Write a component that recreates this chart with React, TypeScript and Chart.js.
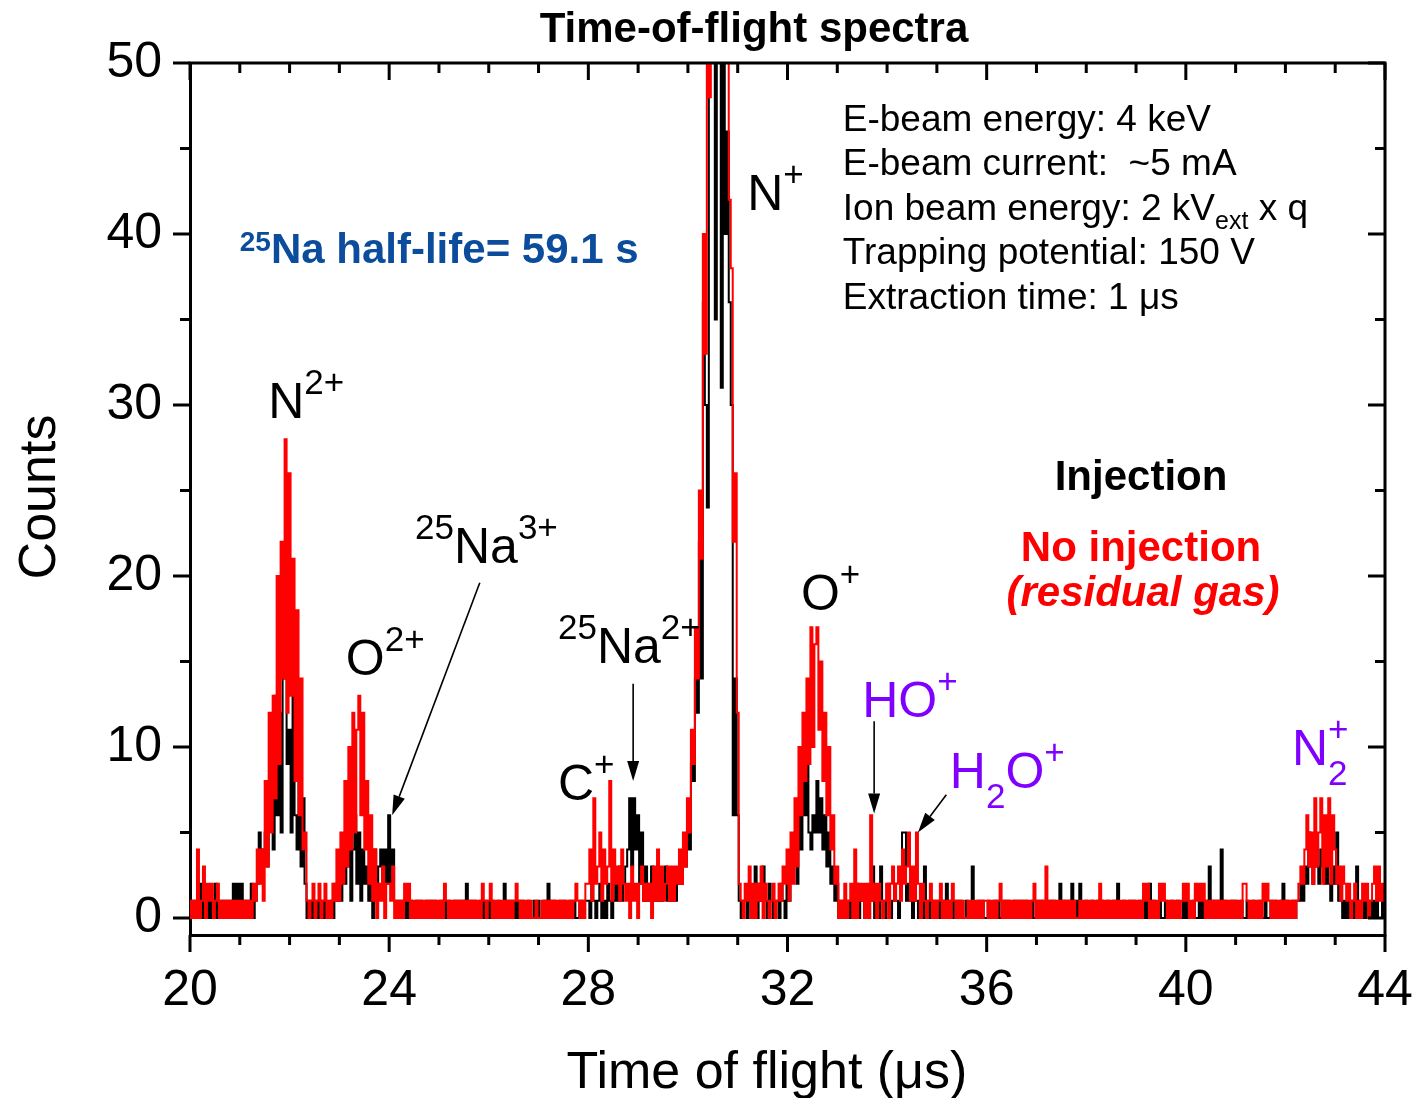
import React, { useEffect, useRef } from 'react';
import { Chart, registerables } from 'chart.js';

Chart.register(...registerables);

const FONT = '"Liberation Sans", Arial, Helvetica, sans-serif';
const BLACK = '#000000';
const RED = '#ff0000';
const PURPLE = '#8000ff';
const BLUE = '#0b4c9c';

// time axis binning (µs)
const T_START = 20;
const BIN = 0.04;

const xTickValues = [20, 24, 28, 32, 36, 40, 44];
const yTickValues = [0, 10, 20, 30, 40, 50];

// "No injection (residual gas)" counts, red, 0.04 µs bins
const red20to24 = [
  1, 0, 1, 0, 4, 0, 1, 3, 0, 2,
  1, 2, 0, 1, 2, 0, 1, 0, 1, 0,
  1, 0, 1, 0, 1, 0, 1, 0, 1, 0,
  1, 0, 2, 1, 4, 2, 4, 1, 8, 3,
  12, 5, 13, 7, 20, 9, 22, 14, 28, 12,
  26, 13, 21, 8, 18, 6, 14, 4, 5, 1,
  0, 1, 2, 0, 1, 2, 0, 1, 2, 0,
  1, 0, 2, 1, 4, 1, 5, 2, 8, 3,
  10, 4, 12, 5, 11, 13, 6, 12, 4, 8,
  2, 6, 1, 4, 0, 2, 1, 3, 0, 2,
];
const red24to28 = [
  2, 1, 3, 0, 1, 0, 1, 0, 2, 1,
  2, 0, 1, 0, 1, 0, 1, 0, 1, 0,
  1, 0, 1, 0, 1, 0, 1, 0, 2, 1,
  0, 1, 0, 1, 0, 1, 0, 1, 0, 1,
  0, 1, 0, 1, 0, 1, 0, 2, 1, 0,
  1, 2, 0, 1, 0, 1, 0, 1, 0, 1,
  0, 1, 0, 1, 2, 1, 0, 1, 0, 1,
  0, 1, 0, 0, 1, 0, 0, 1, 0, 1,
  0, 1, 0, 1, 0, 1, 0, 1, 0, 1,
  0, 1, 0, 1, 2, 1, 0, 1, 0, 2,
];
const red28to32 = [
  2, 4, 1, 7, 2, 3, 5, 1, 4, 2,
  3, 8, 1, 4, 2, 3, 1, 4, 2, 1,
  2, 0, 3, 1, 2, 0, 2, 3, 1, 2,
  1, 2, 0, 3, 1, 4, 1, 3, 1, 2,
  3, 1, 3, 1, 3, 2, 4, 2, 5, 3,
  7, 5, 11, 9, 17, 14, 25, 21, 40, 33,
  56, 48, 70, 62, 81, 74, 78, 66, 64, 52,
  57, 42, 38, 22, 26, 12, 2, 1, 0, 2,
  1, 3, 0, 2, 0, 2, 1, 3, 0, 2,
  1, 0, 1, 2, 0, 1, 2, 1, 3, 2,
];
const red32to36 = [
  4, 1, 5, 2, 7, 3, 10, 6, 12, 8,
  14, 9, 17, 10, 16, 17, 11, 15, 8, 12,
  6, 10, 4, 6, 2, 3, 0, 1, 0, 2,
  0, 1, 2, 0, 4, 0, 2, 1, 2, 0,
  2, 0, 6, 1, 2, 0, 2, 1, 0, 1,
  2, 0, 2, 3, 1, 2, 3, 1, 4, 2,
  3, 5, 1, 3, 1, 5, 2, 0, 2, 1,
  0, 1, 2, 0, 1, 0, 1, 2, 0, 1,
  0, 1, 0, 2, 1, 0, 1, 0, 1, 0,
  0, 1, 0, 1, 0, 1, 0, 1, 0, 1,
];
const red36to40 = [
  1, 0, 1, 0, 1, 0, 1, 2, 0, 1,
  0, 1, 0, 1, 0, 1, 0, 1, 0, 1,
  0, 1, 0, 1, 2, 0, 1, 0, 1, 0,
  3, 0, 1, 0, 1, 0, 1, 0, 1, 0,
  1, 0, 1, 0, 1, 0, 0, 1, 0, 1,
  0, 1, 0, 1, 0, 1, 0, 2, 0, 1,
  0, 1, 0, 1, 0, 1, 0, 1, 0, 1,
  0, 1, 0, 1, 0, 1, 0, 1, 0, 2,
  1, 2, 0, 1, 0, 1, 0, 2, 1, 2,
  1, 0, 1, 0, 1, 0, 1, 0, 1, 2,
];
const red40to44 = [
  1, 2, 0, 1, 0, 2, 1, 2, 1, 2,
  0, 1, 0, 1, 0, 1, 0, 1, 0, 1,
  0, 1, 0, 1, 0, 1, 0, 1, 0, 2,
  2, 1, 0, 1, 0, 1, 0, 1, 0, 2,
  1, 2, 1, 0, 1, 0, 1, 0, 1, 0,
  1, 0, 1, 0, 1, 0, 1, 2, 3, 2,
  4, 6, 3, 5, 2, 7, 3, 5, 7, 2,
  6, 3, 7, 2, 6, 4, 2, 3, 1, 3,
  2, 1, 2, 0, 1, 2, 0, 1, 0, 2,
  1, 2, 0, 1, 2, 3, 1, 3, 1, 2,
  1,
];

// "Injection" counts, black, 0.04 µs bins
const black20to24 = [
  0, 1, 0, 1, 0, 2, 0, 1, 0, 1,
  0, 1, 0, 2, 0, 1, 0, 1, 0, 1,
  0, 1, 2, 0, 2, 1, 2, 0, 1, 0,
  1, 2, 0, 1, 2, 5, 3, 4, 5, 3,
  6, 9, 4, 13, 6, 12, 5, 14, 16, 9,
  11, 5, 13, 6, 4, 10, 3, 7, 2, 0,
  1, 0, 1, 0, 1, 0, 1, 0, 1, 0,
  0, 1, 0, 2, 1, 3, 1, 4, 2, 3,
  5, 1, 4, 6, 2, 5, 1, 4, 2, 3,
  1, 3, 0, 4, 2, 3, 4, 2, 4, 2,
];
const black24to28 = [
  6, 2, 4, 1, 0, 1, 0, 1, 0, 1,
  0, 1, 0, 0, 1, 0, 1, 0, 0, 1,
  0, 1, 0, 1, 0, 0, 1, 0, 1, 0,
  1, 0, 0, 1, 0, 1, 0, 1, 0, 2,
  0, 1, 0, 1, 0, 0, 1, 0, 1, 0,
  1, 0, 1, 0, 0, 1, 0, 0, 2, 1,
  0, 1, 0, 1, 0, 1, 0, 1, 0, 0,
  1, 0, 0, 1, 0, 1, 0, 0, 1, 0,
  2, 1, 0, 1, 0, 0, 1, 0, 1, 0,
  0, 1, 0, 1, 0, 0, 1, 0, 1, 1,
];
const black28to32 = [
  1, 0, 2, 1, 0, 1, 2, 0, 1, 0,
  2, 1, 0, 1, 2, 1, 3, 1, 2, 3,
  4, 7, 3, 7, 4, 6, 2, 5, 1, 3,
  1, 2, 3, 1, 2, 1, 2, 1, 2, 3,
  1, 2, 1, 2, 1, 2, 3, 2, 4, 3,
  5, 4, 9, 8, 14, 12, 22, 14, 36, 30,
  24, 52, 60, 66, 35, 70, 62, 31, 58, 40,
  46, 36, 30, 6, 14, 6, 1, 0, 1, 1,
  0, 2, 1, 1, 3, 0, 2, 1, 3, 1,
  0, 2, 1, 0, 1, 1, 0, 2, 1, 0,
];
const black32to36 = [
  2, 1, 3, 4, 5, 2, 7, 4, 9, 6,
  11, 5, 4, 6, 5, 8, 5, 7, 4, 6,
  3, 5, 2, 3, 1, 2, 0, 1, 0, 1,
  0, 1, 0, 1, 0, 2, 0, 1, 1, 0,
  1, 0, 1, 3, 0, 1, 0, 3, 1, 0,
  1, 2, 0, 1, 2, 1, 0, 2, 5, 5,
  1, 2, 1, 0, 2, 1, 0, 1, 0, 3,
  0, 1, 0, 1, 1, 0, 1, 0, 1, 0,
  2, 0, 1, 0, 1, 1, 0, 1, 0, 0,
  1, 0, 0, 3, 0, 0, 1, 0, 1, 0,
];
const black36to40 = [
  0, 1, 0, 0, 1, 0, 1, 0, 0, 1,
  0, 1, 0, 0, 1, 0, 1, 0, 1, 0,
  1, 0, 0, 1, 0, 0, 1, 0, 1, 0,
  0, 0, 1, 0, 1, 0, 0, 2, 0, 1,
  0, 1, 0, 2, 0, 1, 0, 2, 0, 0,
  1, 0, 0, 1, 0, 0, 1, 0, 1, 0,
  0, 1, 0, 0, 1, 0, 2, 0, 0, 1,
  0, 0, 1, 0, 1, 0, 0, 1, 0, 0,
  1, 0, 2, 0, 1, 0, 0, 1, 0, 0,
  1, 0, 0, 1, 0, 0, 1, 0, 0, 1,
];
const black40to44 = [
  0, 1, 0, 0, 1, 0, 0, 1, 0, 1,
  0, 1, 3, 0, 1, 0, 1, 0, 4, 0,
  1, 0, 0, 1, 0, 1, 0, 0, 1, 0,
  0, 1, 0, 0, 1, 0, 0, 1, 0, 0,
  1, 0, 0, 1, 0, 1, 0, 0, 1, 2,
  0, 1, 0, 0, 1, 0, 1, 1, 2, 1,
  3, 2, 5, 3, 2, 4, 3, 2, 4, 3,
  2, 3, 2, 1, 3, 2, 5, 1, 2, 0,
  1, 0, 1, 0, 1, 0, 3, 0, 1, 0,
  1, 0, 1, 0, 1, 0, 1, 0, 0, 1,
  0,
];

const redCounts = [...red20to24, ...red24to28, ...red28to32, ...red32to36, ...red36to40, ...red40to44];
const blackCounts = [...black20to24, ...black24to28, ...black28to32, ...black32to36, ...black36to40, ...black40to44];

const toPoints = (counts: number[]) =>
  counts.map((c, i) => ({ x: Math.round((T_START + i * BIN) * 100) / 100, y: c }));

// ---------- text helpers ----------
type Part = { text: string; size: number; dy?: number; weight?: string; italic?: boolean; sameX?: boolean };

const fontOf = (p: Part) => `${p.italic ? 'italic ' : ''}${p.weight || 'normal'} ${p.size}px ${FONT}`;

const MAIN = 50;
const SUP = 35;
const P = (text: string): Part => ({ text, size: MAIN });
const S = (text: string, sameX = false): Part => ({ text, size: SUP, dy: -24, sameX });
const Sb = (text: string): Part => ({ text, size: SUP, dy: 20 });

function drawParts(ctx: CanvasRenderingContext2D, x: number, y: number, parts: Part[], color: string, align: 'left' | 'center' = 'left') {
  let cur = 0;
  let prevStart = 0;
  let maxEnd = 0;
  const placed: { p: Part; start: number }[] = [];
  for (const p of parts) {
    ctx.font = fontOf(p);
    const w = ctx.measureText(p.text).width;
    const start = p.sameX ? prevStart : cur;
    placed.push({ p, start });
    prevStart = start;
    cur = start + w;
    maxEnd = Math.max(maxEnd, cur);
  }
  const x0 = align === 'center' ? x - maxEnd / 2 : x;
  ctx.fillStyle = color;
  ctx.textAlign = 'left';
  ctx.textBaseline = 'alphabetic';
  for (const { p, start } of placed) {
    ctx.font = fontOf(p);
    ctx.fillText(p.text, x0 + start, y + (p.dy || 0));
  }
}

// peak labels anchored in data coordinates (time, counts) = left edge, baseline
const peakLabels: { t: number; c: number; color: string; parts: Part[] }[] = [
  { t: 21.57, c: 29.24, color: BLACK, parts: [P('N'), S('2+')] },
  { t: 23.13, c: 14.21, color: BLACK, parts: [P('O'), S('2+')] },
  { t: 24.52, c: 20.76, color: BLACK, parts: [S('25'), P('Na'), S('3+')] },
  { t: 27.39, c: 14.91, color: BLACK, parts: [S('25'), P('Na'), S('2+')] },
  { t: 27.39, c: 6.9, color: BLACK, parts: [P('C'), S('+')] },
  { t: 31.19, c: 41.4, color: BLACK, parts: [P('N'), S('+')] },
  { t: 32.27, c: 18.01, color: BLACK, parts: [P('O'), S('+')] },
  { t: 33.5, c: 11.75, color: PURPLE, parts: [P('HO'), S('+')] },
  { t: 35.26, c: 7.6, color: PURPLE, parts: [P('H'), Sb('2'), P('O'), S('+')] },
  { t: 42.13, c: 8.95, color: PURPLE, parts: [P('N'), Sb('2'), S('+', true)] },
];

// arrows in data coordinates: from -> to (head at "to")
const arrows = [
  { from: [25.82, 19.6], to: [24.06, 6.0] },
  { from: [28.9, 13.7], to: [28.9, 8.0] },
  { from: [33.74, 11.5], to: [33.74, 6.1] },
  { from: [35.19, 7.2], to: [34.62, 5.0] },
];

const INFO = 37;
const infoLines: { c: number; parts: Part[] }[] = [
  { c: 46.02, parts: [{ text: 'E-beam energy: 4 keV', size: INFO }] },
  { c: 43.45, parts: [{ text: 'E-beam current:  ~5 mA', size: INFO }] },
  {
    c: 40.82,
    parts: [
      { text: 'Ion beam energy: 2 kV', size: INFO },
      { text: 'ext', size: 25, dy: 9 },
      { text: ' x q', size: INFO },
    ],
  },
  { c: 38.25, parts: [{ text: 'Trapping potential: 150 V', size: INFO }] },
  { c: 35.61, parts: [{ text: 'Extraction time: 1 μs', size: INFO }] },
];
const INFO_T = 33.11;

const annotationPlugin = {
  id: 'tofAnnotations',
  afterDraw(chart: any) {
    const { ctx, chartArea } = chart;
    const xs = chart.scales.x;
    const ys = chart.scales.y;
    const { left, right, top, bottom } = chartArea;
    ctx.save();

    // frame (top/right) + ticks on all four sides
    ctx.strokeStyle = BLACK;
    ctx.lineWidth = 3;
    ctx.lineCap = 'butt';
    ctx.beginPath();
    ctx.moveTo(left - 1.5, top);
    ctx.lineTo(right, top);
    ctx.lineTo(right, bottom + 1.5);
    ctx.stroke();
    ctx.beginPath();
    for (let v = 20; v <= 44; v += 1) {
      const px = xs.getPixelForValue(v);
      const len = v % 4 === 0 ? 17 : 10;
      ctx.moveTo(px, bottom);
      ctx.lineTo(px, bottom + len);
      ctx.moveTo(px, top);
      ctx.lineTo(px, top + len);
    }
    for (let v = 0; v <= 50; v += 5) {
      const py = ys.getPixelForValue(v);
      const len = v % 10 === 0 ? 17 : 10;
      ctx.moveTo(left - len, py);
      ctx.lineTo(left, py);
      ctx.moveTo(right - len, py);
      ctx.lineTo(right, py);
    }
    ctx.stroke();

    // title & axis titles
    drawParts(ctx, 754, 42, [{ text: 'Time-of-flight spectra', size: 42, weight: 'bold' }], BLACK, 'center');
    drawParts(ctx, 767, 1088, [{ text: 'Time of flight (μs)', size: 52 }], BLACK, 'center');
    ctx.save();
    ctx.translate(55, 497);
    ctx.rotate(-Math.PI / 2);
    drawParts(ctx, 0, 0, [{ text: 'Counts', size: 52 }], BLACK, 'center');
    ctx.restore();

    // peak labels
    for (const l of peakLabels) {
      drawParts(ctx, xs.getPixelForValue(l.t), ys.getPixelForValue(l.c), l.parts, l.color);
    }

    // arrows
    ctx.strokeStyle = BLACK;
    ctx.fillStyle = BLACK;
    ctx.lineWidth = 1.6;
    for (const a of arrows) {
      const x1 = xs.getPixelForValue(a.from[0]);
      const y1 = ys.getPixelForValue(a.from[1]);
      const x2 = xs.getPixelForValue(a.to[0]);
      const y2 = ys.getPixelForValue(a.to[1]);
      const ang = Math.atan2(y2 - y1, x2 - x1);
      const hl = 20;
      const hw = 6;
      const bx = x2 - hl * Math.cos(ang);
      const by = y2 - hl * Math.sin(ang);
      ctx.beginPath();
      ctx.moveTo(x1, y1);
      ctx.lineTo(bx, by);
      ctx.stroke();
      ctx.beginPath();
      ctx.moveTo(x2, y2);
      ctx.lineTo(bx + hw * Math.sin(ang), by - hw * Math.cos(ang));
      ctx.lineTo(bx - hw * Math.sin(ang), by + hw * Math.cos(ang));
      ctx.closePath();
      ctx.fill();
    }

    // experimental conditions
    for (const line of infoLines) {
      drawParts(ctx, xs.getPixelForValue(INFO_T), ys.getPixelForValue(line.c), line.parts, BLACK);
    }

    // half-life note
    drawParts(
      ctx,
      xs.getPixelForValue(21.0),
      ys.getPixelForValue(38.3),
      [
        { text: '25', size: 28, weight: 'bold', dy: -12 },
        { text: 'Na half-life= 59.1 s', size: 42, weight: 'bold' },
      ],
      BLUE,
    );

    // legend-like labels
    const lx = xs.getPixelForValue(39.1);
    drawParts(ctx, lx, ys.getPixelForValue(25.03), [{ text: 'Injection', size: 42, weight: 'bold' }], BLACK, 'center');
    drawParts(ctx, lx, ys.getPixelForValue(20.88), [{ text: 'No injection', size: 42, weight: 'bold' }], RED, 'center');
    drawParts(
      ctx,
      xs.getPixelForValue(39.14),
      ys.getPixelForValue(18.25),
      [{ text: '(residual gas)', size: 42, weight: 'bold', italic: true }],
      RED,
      'center',
    );

    ctx.restore();
  },
};

export default function App() {
  const canvasRef = useRef<HTMLCanvasElement | null>(null);

  useEffect(() => {
    document.body.style.margin = '0';
    const canvas = canvasRef.current;
    if (!canvas) return;
    const chart = new Chart(canvas, {
      type: 'line',
      data: {
        datasets: [
          {
            label: 'No injection (residual gas)',
            data: toPoints(redCounts),
            borderColor: RED,
            borderWidth: 2,
            pointRadius: 0,
            stepped: 'middle',
            order: 0,
          },
          {
            label: 'Injection',
            data: toPoints(blackCounts),
            borderColor: BLACK,
            borderWidth: 2,
            pointRadius: 0,
            stepped: 'middle',
            order: 1,
          },
        ],
      },
      options: {
        animation: false,
        responsive: false,
        devicePixelRatio: 1,
        layout: { padding: { top: 63, right: 33, left: 0, bottom: 0 } },
        plugins: { legend: { display: false }, tooltip: { enabled: false }, title: { display: false } },
        scales: {
          x: {
            type: 'linear',
            min: 20,
            max: 44,
            grid: { display: false, drawTicks: false },
            border: { display: true, color: BLACK, width: 3 },
            afterBuildTicks: (s: any) => {
              s.ticks = xTickValues.map((v) => ({ value: v }));
            },
            afterFit: (s: any) => {
              s.height = 163;
              s.paddingLeft = 0;
              s.paddingRight = 0;
            },
            ticks: {
              color: BLACK,
              font: { family: FONT, size: 50 },
              padding: 26,
              maxRotation: 0,
              autoSkip: false,
            },
          },
          y: {
            type: 'linear',
            min: -1,
            max: 50,
            grid: { display: false, drawTicks: false },
            border: { display: true, color: BLACK, width: 3 },
            afterBuildTicks: (s: any) => {
              s.ticks = yTickValues.map((v) => ({ value: v }));
            },
            afterFit: (s: any) => {
              s.width = 190;
              s.paddingTop = 0;
              s.paddingBottom = 0;
            },
            ticks: {
              color: BLACK,
              font: { family: FONT, size: 50 },
              padding: 28,
              autoSkip: false,
            },
          },
        },
      },
      plugins: [annotationPlugin],
    } as any);
    return () => chart.destroy();
  }, []);

  return (
    <div style={{ width: 1418, height: 1098, position: 'relative', background: '#ffffff' }}>
      <canvas ref={canvasRef} width={1418} height={1098} style={{ display: 'block' }} />
    </div>
  );
}
